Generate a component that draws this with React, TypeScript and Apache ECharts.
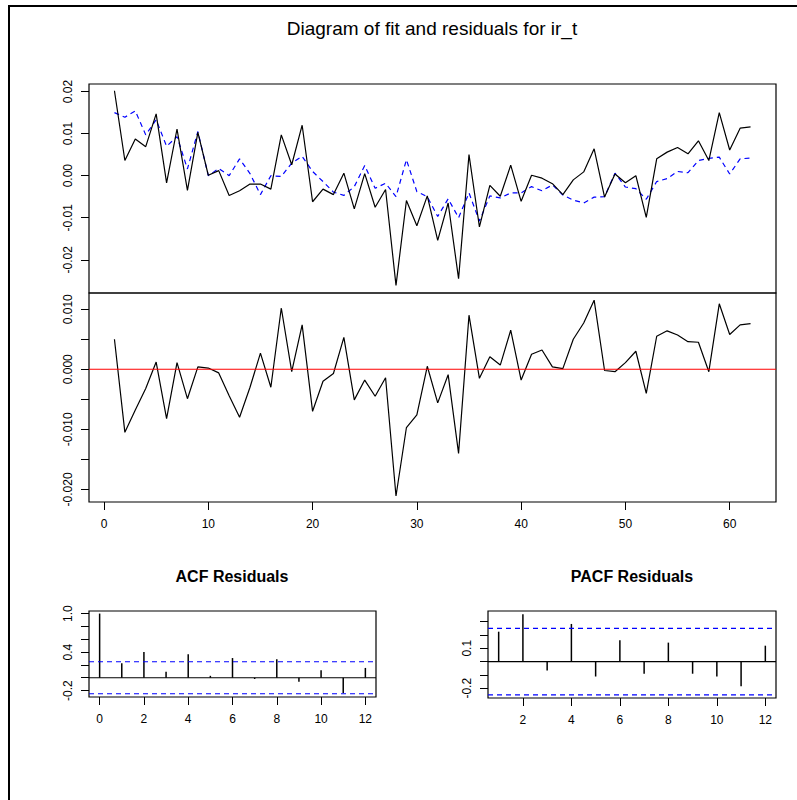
import React, { useEffect, useRef } from "react";
import * as echarts from "echarts";

// ---- data ----
const actual = [
  0.0202, 0.0036, 0.0087, 0.0069, 0.0147, -0.0017, 0.0111, -0.0035, 0.0103, 0.0001,
  0.0012, -0.0047, -0.0036, -0.0020, -0.0020, -0.0032, 0.0097, 0.0026, 0.0120, -0.0062,
  -0.0032, -0.0045, 0.0006, -0.0079, 0.0005, -0.0075, -0.0033, -0.0261, -0.0059, -0.0119,
  -0.0048, -0.0154, -0.0065, -0.0245, 0.0050, -0.0122, -0.0023, -0.0049, 0.0025, -0.0061,
  0.0001, -0.0006, -0.0019, -0.0045, -0.0010, 0.0009, 0.0064, -0.0051, 0.0004, -0.0017,
  0.0000, -0.0099, 0.0040, 0.0056, 0.0067, 0.0052, 0.0083, 0.0036, 0.0150, 0.0061,
  0.0113, 0.0116,
];
const fitted = [
  0.0150, 0.0139, 0.0154, 0.0097, 0.0133, 0.0070, 0.0093, 0.0016, 0.0105, 0.0000,
  0.0017, 0.0000, 0.0040, 0.0005, -0.0045, 0.0000, -0.0002, 0.0030, 0.0046, 0.0010,
  -0.0014, -0.0039, -0.0047, -0.0026, 0.0024, -0.0030, -0.0018, -0.0050, 0.0038, -0.0038,
  -0.0050, -0.0097, -0.0055, -0.0100, -0.0041, -0.0108, -0.0048, -0.0053, -0.0041, -0.0041,
  -0.0026, -0.0036, -0.0022, -0.0046, -0.0058, -0.0065, -0.0051, -0.0050, 0.0006, -0.0027,
  -0.0031, -0.0056, -0.0014, -0.0007, 0.0010, 0.0007, 0.0036, 0.0041, 0.0044, 0.0004,
  0.0040, 0.0042,
];
const residuals = [
  0.0050, -0.0105, -0.0068, -0.0032, 0.0012, -0.0082, 0.0011, -0.0049, 0.0004, 0.0002,
  -0.0006, -0.0044, -0.0080, -0.0030, 0.0027, -0.0030, 0.0102, -0.0004, 0.0074, -0.0070,
  -0.0020, -0.0007, 0.0053, -0.0051, -0.0018, -0.0045, -0.0014, -0.0211, -0.0097, -0.0076,
  0.0005, -0.0056, -0.0009, -0.0140, 0.0090, -0.0015, 0.0021, 0.0007, 0.0065, -0.0018,
  0.0025, 0.0032, 0.0004, 0.0001, 0.0050, 0.0077, 0.0115, -0.0002, -0.0004, 0.0011,
  0.0030, -0.0040, 0.0055, 0.0064, 0.0057, 0.0046, 0.0045, -0.0004, 0.0109, 0.0058,
  0.0074, 0.0076,
];
const acfLags = [0, 1, 2, 3, 4, 5, 6, 7, 8, 9, 10, 11, 12];
const acfValues = [1.0, 0.224, 0.40, 0.095, 0.365, 0.03, 0.307, -0.02, 0.29, -0.063, 0.116, -0.238, 0.153];
const pacfLags = [1, 2, 3, 4, 5, 6, 7, 8, 9, 10, 11, 12];
const pacfValues = [0.224, 0.355, -0.066, 0.282, -0.112, 0.16, -0.091, 0.142, -0.091, -0.112, -0.185, 0.119];
const confBound = 0.249;

const timeTicks = [0, 10, 20, 30, 40, 50, 60];
const fitTicks = [-0.02, -0.01, 0, 0.01, 0.02];
const residTicks = [-0.02, -0.015, -0.01, -0.005, 0, 0.005, 0.01];
const residLabels = [-0.02, -0.01, 0, 0.01];
const acfXTicks = [0, 2, 4, 6, 8, 10, 12];
const acfYTicks = [-0.2, 0, 0.2, 0.4, 0.6, 0.8, 1.0];
const acfYLabels = [-0.2, 0.4, 1.0];
const pacfXTicks = [2, 4, 6, 8, 10, 12];
const pacfYTicks = [-0.2, -0.1, 0, 0.1, 0.2, 0.3];
const pacfYLabels = [-0.2, 0.1];

// axis extents (R's 4% padding)
const timeRange = [-1.44, 64.44];
const acfRange = [-0.48, 12.48];
const pacfRange = [0.56, 12.44];

const FONT = "'Liberation Sans', Arial, sans-serif";

export default function App() {
  const ref = useRef<HTMLDivElement>(null);

  useEffect(() => {
    if (!ref.current) return;
    const chart = echarts.init(ref.current, undefined, { renderer: "svg" });

    const labelStyle = { fontFamily: FONT, fontSize: 12, color: "#000" };
    const tickStyle = { lineStyle: { color: "#000", width: 1 } };

    const xAx = (gridIndex: number, range: number[], ticks: number[] | null) =>
      ticks
        ? {
            type: "value",
            gridIndex,
            min: range[0],
            max: range[1],
            axisLine: { show: false, onZero: false },
            splitLine: { show: false },
            axisTick: { show: true, length: 8, customValues: ticks, ...tickStyle },
            axisLabel: { ...labelStyle, customValues: ticks, margin: 16 },
          }
        : {
            type: "value",
            gridIndex,
            min: range[0],
            max: range[1],
            show: false,
            axisLine: { show: false, onZero: false },
            splitLine: { show: false },
          };

    const yAx = (
      gridIndex: number,
      min: number,
      max: number,
      ticks: number[],
      labels: number[],
      digits: number
    ) => ({
      type: "value",
      gridIndex,
      min,
      max,
      axisLine: { show: false, onZero: false },
      splitLine: { show: false },
      axisTick: { show: true, length: 8, customValues: ticks, ...tickStyle },
      axisLabel: {
        ...labelStyle,
        customValues: labels,
        rotate: 90,
        margin: 15,
        formatter: (v: number) => Number(v).toFixed(digits),
      },
    });

    // horizontal reference line spanning the full plot width
    const hLine = (axisIdx: number, range: number[], y: number, color: string, type: any) => ({
      type: "line",
      xAxisIndex: axisIdx,
      yAxisIndex: axisIdx,
      data: [
        [range[0], y],
        [range[1], y],
      ],
      silent: true,
      showSymbol: false,
      symbol: "none",
      lineStyle: { color, width: 1.2, type },
      z: 4,
    });

    const gridBase = {
      show: true,
      borderColor: "#000",
      borderWidth: 1.2,
      backgroundColor: "transparent",
      outerBoundsMode: "none",
    };

    const option: any = {
      animation: false,
      backgroundColor: "#fff",
      grid: [
        { ...gridBase, left: 89, top: 84, width: 687, height: 209 },
        { ...gridBase, left: 89, top: 293, width: 687, height: 209 },
        { ...gridBase, left: 89, top: 611, width: 287, height: 86 },
        { ...gridBase, left: 488, top: 611, width: 288, height: 87 },
      ],
      xAxis: [
        xAx(0, timeRange, null),
        xAx(1, timeRange, timeTicks),
        xAx(2, acfRange, acfXTicks),
        xAx(3, pacfRange, pacfXTicks),
      ],
      yAxis: [
        yAx(0, -0.0279, 0.0218, fitTicks, fitTicks, 2),
        yAx(1, -0.0221, 0.0127, residTicks, residLabels, 3),
        yAx(2, -0.3, 1.04, acfYTicks, acfYLabels, 1),
        yAx(3, -0.273, 0.379, pacfYTicks, pacfYLabels, 1),
      ],
      graphic: [
        {
          type: "rect",
          shape: { x: 9, y: 6, width: 900, height: 900 },
          style: { fill: "none", stroke: "#000", lineWidth: 2 },
          silent: true,
        },
        {
          type: "text",
          x: 432,
          y: 28,
          style: {
            text: "Diagram of fit and residuals for ir_t",
            font: `19px ${FONT}`,
            fill: "#000",
            align: "center",
            verticalAlign: "middle",
          },
        },
        {
          type: "text",
          x: 232,
          y: 576,
          style: {
            text: "ACF Residuals",
            font: `bold 16px ${FONT}`,
            fill: "#000",
            align: "center",
            verticalAlign: "middle",
          },
        },
        {
          type: "text",
          x: 632,
          y: 576,
          style: {
            text: "PACF Residuals",
            font: `bold 16px ${FONT}`,
            fill: "#000",
            align: "center",
            verticalAlign: "middle",
          },
        },
      ],
      series: [
        {
          type: "line",
          xAxisIndex: 0,
          yAxisIndex: 0,
          data: actual.map((v, i) => [i + 1, v]),
          showSymbol: false,
          symbol: "none",
          lineStyle: { color: "#000", width: 1.2 },
          z: 3,
        },
        {
          type: "line",
          xAxisIndex: 0,
          yAxisIndex: 0,
          data: fitted.map((v, i) => [i + 1, v]),
          showSymbol: false,
          symbol: "none",
          lineStyle: { color: "#0000ff", width: 1.2, type: [5, 4] },
          z: 2,
        },
        {
          type: "line",
          xAxisIndex: 1,
          yAxisIndex: 1,
          data: residuals.map((v, i) => [i + 1, v]),
          showSymbol: false,
          symbol: "none",
          lineStyle: { color: "#000", width: 1.2 },
          z: 3,
        },
        hLine(1, timeRange, 0, "#ff0000", "solid"),
        {
          type: "bar",
          xAxisIndex: 2,
          yAxisIndex: 2,
          data: acfLags.map((l, i) => [l, acfValues[i]]),
          barWidth: 1.5,
          itemStyle: { color: "#000" },
        },
        hLine(2, acfRange, 0, "#000000", "solid"),
        hLine(2, acfRange, confBound, "#0000ff", [5, 4]),
        hLine(2, acfRange, -confBound, "#0000ff", [5, 4]),
        {
          type: "bar",
          xAxisIndex: 3,
          yAxisIndex: 3,
          data: pacfLags.map((l, i) => [l, pacfValues[i]]),
          barWidth: 1.5,
          itemStyle: { color: "#000" },
        },
        hLine(3, pacfRange, 0, "#000000", "solid"),
        hLine(3, pacfRange, confBound, "#0000ff", [5, 4]),
        hLine(3, pacfRange, -confBound, "#0000ff", [5, 4]),
      ],
    };

    chart.setOption(option);
    return () => chart.dispose();
  }, []);

  return (
    <div
      ref={ref}
      style={{ position: "absolute", left: 0, top: 0, width: 797, height: 800, background: "#fff" }}
    />
  );
}
